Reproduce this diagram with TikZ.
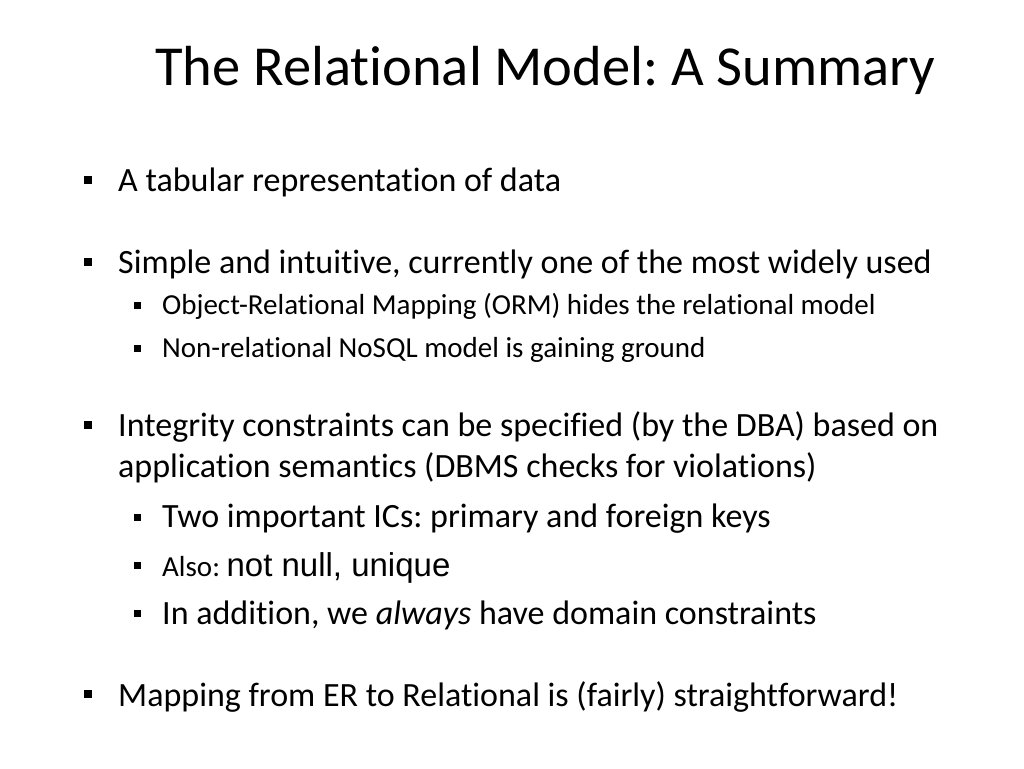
\documentclass[tikz,border=0pt]{standalone}
\usepackage{fontspec}
\setmainfont{Carlito}[Ligatures=NoCommon]
\newfontfamily\arialf{Liberation Sans}
\frenchspacing
\begin{document}
\begin{tikzpicture}[x=1pt,y=-1pt,
  txt/.style={anchor=base west,inner sep=0pt,font=\fontsize{34}{36}\selectfont},
  subtxt/.style={anchor=base west,inner sep=0pt,font=\fontsize{29}{31}\selectfont},
  blt/.style={fill=black,minimum size=8pt,inner sep=0pt,draw=none},
  sblt/.style={fill=black,minimum size=7pt,inner sep=0pt,draw=none}]
\useasboundingbox (0,0) rectangle (1024,768);
\node[anchor=base west,inner sep=0pt,font=\fontsize{56.5}{58}\selectfont] (title) at (155,85) {The Relational Model: A Summary};
\node[blt] (b1) at (88,180) {}; \node[txt] (t1) at (118,191) {A tabular representation of data};
\node[blt] (b2) at (88,262) {}; \node[txt] (t2) at (118,273) {Simple and intuitive, currently one of the most widely used};
\node[sblt] (b21) at (137,305) {}; \node[subtxt] (t21) at (162,314) {Object-Relational Mapping (ORM) hides the relational model};
\node[sblt] (b22) at (137,348) {}; \node[subtxt] (t22) at (162,357) {Non-relational NoSQL model is gaining ground};
\node[blt] (b3) at (88,425) {}; \node[txt] (t3) at (118,436) {Integrity constraints can be specified (by the DBA) based on};
\node[txt] (t3b) at (118,477) {application semantics (DBMS checks for violations)};
\node[sblt] (b31) at (137,517) {}; \node[txt] (t31) at (162,527) {Two important ICs: primary and foreign keys};
\node[sblt] (b32) at (137,565) {}; \node[txt] (t32) at (162,576) {{\fontsize{29}{31}\selectfont Also: }{\arialf\fontsize{33}{35}\selectfont not null, unique}};
\node[sblt] (b33) at (137,613) {}; \node[txt] (t33) at (162,624) {In addition, we \textit{always} have domain constraints};
\node[blt] (b4) at (88,694) {}; \node[txt] (t4) at (118,706) {Mapping from ER to Relational is (fairly) straightforward!};
\end{tikzpicture}
\end{document}
